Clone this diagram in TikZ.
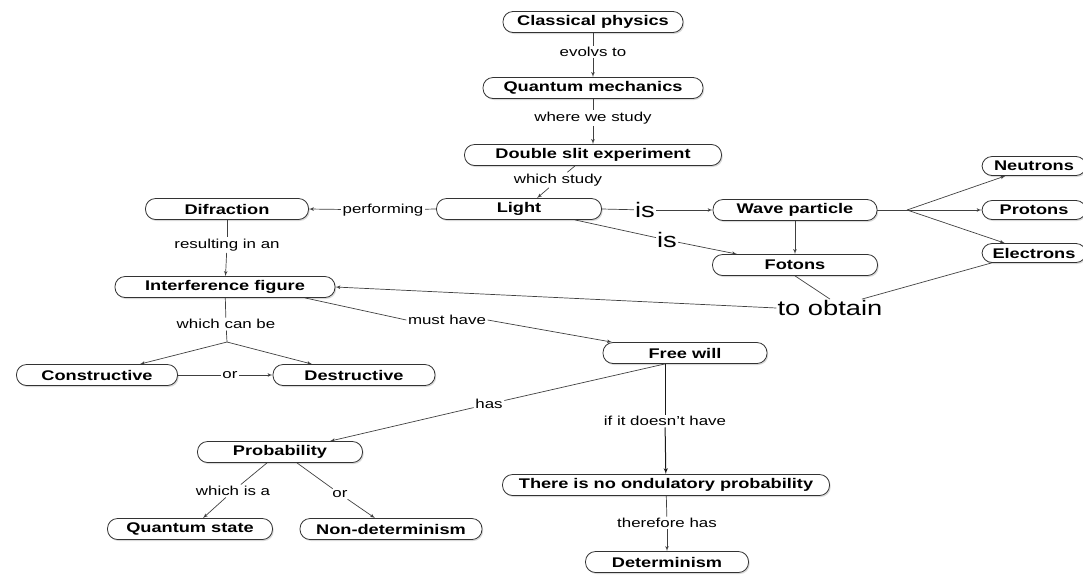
\documentclass[tikz,border=0pt]{standalone}
\usepackage{fontspec}
\setmainfont[FakeStretch=1.3]{Liberation Sans}
\usetikzlibrary{arrows}
\usetikzlibrary{shapes,shadows}
\usetikzlibrary{positioning}
\tikzstyle{line} = [draw, -latex']
\tikzset{
    concept/.style={draw=black!80, line width=0.8pt, fill=white, rounded corners=10pt,
        minimum height=21pt, inner sep=2pt, font=\bfseries\fontsize{14}{15}\selectfont,
        drop shadow={shadow xshift=1.2pt, shadow yshift=-1.5pt, opacity=0.3}},
    link/.style={inner sep=1.5pt, font=\fontsize{13}{15}\selectfont},
    biglink/.style={inner sep=1pt, font=\fontsize{21}{23}\selectfont},
    conn/.style={draw=black!75, line width=0.7pt},
    strongconn/.style={draw=black!90, line width=1pt},
}

\begin{document}
\begin{tikzpicture}[x=1pt, y=-1pt]
	\useasboundingbox (0,0) rectangle (1083,574);
	% concepts
	\node[concept, minimum width=180pt] (classical) at (593,22) {Classical physics};
	\node[concept, minimum width=220pt] (quantum) at (593,88) {Quantum mechanics};
	\node[concept, minimum width=257pt] (slit) at (593,155) {Double slit experiment};
	\node[concept, minimum width=165pt] (light) at (519,209) {Light};
	\node[concept, minimum width=164pt] (wave) at (795,210) {Wave particle};
	\node[concept, minimum width=165pt] (fotons) at (795,265) {Fotons};
	\node[concept, minimum width=104pt, minimum height=19pt] (neutrons) at (1034,166) {Neutrons};
	\node[concept, minimum width=104pt, minimum height=19pt] (protons) at (1034,210) {Protons};
	\node[concept, minimum width=104pt, minimum height=19pt] (electrons) at (1034,253) {Electrons};
	\node[concept, minimum width=163pt] (difraction) at (227,209) {Difraction};
	\node[concept, minimum width=220pt] (interference) at (225,287) {Interference figure};
	\node[concept, minimum width=161pt] (constructive) at (97,375) {Constructive};
	\node[concept, minimum width=162pt] (destructive) at (354,375) {Destructive};
	\node[concept, minimum width=164pt] (freewill) at (685,353) {Free will};
	\node[concept, minimum width=165pt] (probability) at (280,452) {Probability};
	\node[concept, minimum width=165pt] (qstate) at (190,529) {Quantum state};
	\node[concept, minimum width=182pt] (nondet) at (391,529) {Non-determinism};
	\node[concept, minimum width=327pt] (noprob) at (666,485) {There is no ondulatory probability};
	\node[concept, minimum width=163pt] (determinism) at (667,562) {Determinism};
	% linking words
	\node[link] (evolvs) at (593,52) {evolvs to};
	\node[link] (westudy) at (593,118) {where we study};
	\node[link] (whichstudy) at (558,180) {which study};
	\node[biglink] (isone) at (645,210) {is};
	\node[biglink] (istwo) at (667,240) {is};
	\node[link] (performing) at (383,210) {performing};
	\node[link] (resulting) at (227,245) {resulting in an};
	\node[link] (canbe) at (226,324) {which can be};
	\node[link] (orone) at (230,375) {or};
	\node[link] (musthave) at (447,320) {must have};
	\node[biglink] (obtain) at (830,308) {to obtain};
	\node[link] (has) at (489,404) {has};
	\node[link] (doesnt) at (665,421) {if it doesn't have};
	\node[link] (whichisa) at (233,491) {which is a};
	\node[link] (ortwo) at (340,494) {or};
	\node[link] (therefore) at (667,523) {therefore has};
	\coordinate (split) at (227,342);
	\coordinate (fork) at (907,210);
	\coordinate (fwout) at ([xshift=-20pt]freewill.south);
	% connections
	\path[conn] (classical) -- (evolvs);
	\path[line, conn] (evolvs) -- (quantum);
	\path[conn] (quantum) -- (westudy);
	\path[line, conn] (westudy) -- (slit);
	\path[conn] ([xshift=-18pt]slit.south) -- (whichstudy);
	\path[line, conn] (whichstudy) -- ([xshift=18pt]light.north);
	\path[conn] (light.east) -- (isone);
	\path[line, conn] (isone) -- (wave.west);
	\path[conn] ([xshift=56pt]light.south) -- (istwo);
	\path[line, conn] (istwo) -- ([xshift=-58pt]fotons.north);
	\path[line, conn] (wave) -- (fotons);
	\path[conn] (wave.east) -- (fork);
	\path[line, conn] (fork) -- (neutrons);
	\path[line, conn] (fork) -- (protons.west);
	\path[line, conn] (fork) -- (electrons);
	\path[conn] ([xshift=10pt]electrons.south west) -- (obtain);
	\path[conn] (fotons.south) -- (obtain.north);
	\path[line, conn] (obtain.west) -- (interference.east);
	\path[conn] (light.west) -- (performing);
	\path[line, conn] (performing) -- (difraction.east);
	\path[conn] (difraction) -- (resulting);
	\path[line, conn] (resulting) -- (interference);
	\path[conn] (interference) -- (canbe);
	\path[conn] (canbe) -- (split);
	\path[line, conn] (split) -- (constructive);
	\path[line, conn] (split) -- (destructive);
	\path[conn] (constructive.east) -- (orone);
	\path[line, conn] (orone) -- (destructive.west);
	\path[conn] ([xshift=80pt]interference.south) -- (musthave.west);
	\path[line, conn] (musthave.east) -- ([xshift=-73pt]freewill.north);
	\path[conn] (fwout) -- (has);
	\path[line, conn] (has) -- ([xshift=50pt]probability.north);
	\path[strongconn] (fwout) -- (doesnt);
	\path[line, strongconn] (doesnt) -- (noprob);
	\path[conn] (noprob) -- (therefore);
	\path[line, conn] (therefore) -- (determinism);
	\path[conn] ([xshift=-13pt]probability.south) -- (whichisa);
	\path[line, conn] (whichisa) -- ([xshift=13pt]qstate.north);
	\path[conn] ([xshift=17pt]probability.south) -- (ortwo);
	\path[line, conn] (ortwo) -- ([xshift=-16pt]nondet.north);
\end{tikzpicture}
\end{document}
